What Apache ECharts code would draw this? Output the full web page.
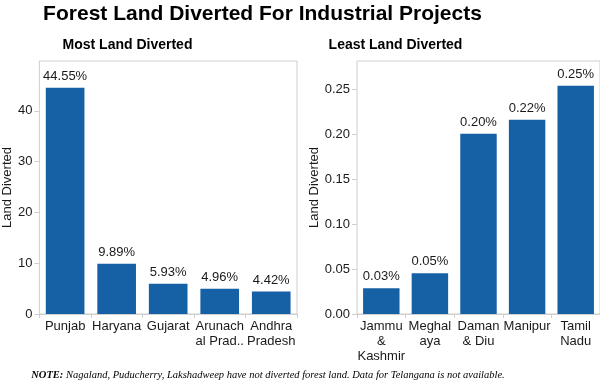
<!DOCTYPE html>
<html>
<head>
<meta charset="utf-8">
<script src="https://cdn.jsdelivr.net/npm/echarts@6/dist/echarts.min.js"></script>
<style>
html,body{margin:0;padding:0;background:#fff;}
#chart{width:600px;height:384px;}
</style>
</head>
<body>
<div id="chart"></div>
<script>
// ---- data ----
var mostCategories = ['Punjab', 'Haryana', 'Gujarat', 'Arunach\nal Prad..', 'Andhra\nPradesh'];
var mostValues = [44.55, 9.89, 5.93, 4.96, 4.42];
var mostTicks = [0, 10, 20, 30, 40];

var leastCategories = ['Jammu\n&\nKashmir', 'Meghal\naya', 'Daman\n& Diu', 'Manipur', 'Tamil\nNadu'];
var leastValues = [0.0286, 0.0455, 0.2006, 0.2162, 0.2542];
var leastTicks = [0, 0.05, 0.10, 0.15, 0.20, 0.25];

var mainTitle = 'Forest Land Diverted For Industrial Projects';
var leftTitle = 'Most Land Diverted';
var rightTitle = 'Least Land Diverted';
var axisName = 'Land Diverted';
var noteLead = 'NOTE:';
var noteText = ' Nagaland, Puducherry, Lakshadweep have not diverted forest land. Data for Telangana is not available.';

// ---- styles ----
var SANS = '"Liberation Sans", Arial, sans-serif';
var SERIF = '"Liberation Serif", "Times New Roman", serif';
var BAR = '#1660a5';
var BORDER = '#cfcfcf';
var TEXT = '#1a1a1a';

var chart = echarts.init(document.getElementById('chart'), null, {renderer: 'canvas'});

function yAxisCfg(gridIndex, max, ticks, digits, gap) {
  return {
    type: 'value', gridIndex: gridIndex, min: 0, max: max,
    name: axisName, nameLocation: 'middle', nameGap: gap,
    nameTextStyle: {fontFamily: SANS, fontSize: 13, color: TEXT},
    axisLine: {show: false},
    axisTick: {show: true, length: 5, lineStyle: {color: BORDER}, customValues: ticks},
    axisLabel: {
      fontFamily: SANS, fontSize: 13, color: TEXT, margin: 7, customValues: ticks,
      formatter: function (v) { return Number(v).toFixed(digits); }
    },
    splitLine: {show: false}
  };
}

function xAxisCfg(gridIndex, cats) {
  return {
    type: 'category', gridIndex: gridIndex, data: cats,
    axisLine: {show: true, lineStyle: {color: BORDER}},
    axisTick: {show: true, length: 4, alignWithLabel: false, lineStyle: {color: BORDER}},
    axisLabel: {interval: 0, fontFamily: SANS, fontSize: 13, color: TEXT, margin: 5, lineHeight: 15}
  };
}

function seriesCfg(idx, values) {
  return {
    type: 'bar', xAxisIndex: idx, yAxisIndex: idx, data: values,
    barCategoryGap: '25%',
    itemStyle: {color: BAR},
    label: {
      show: true, position: 'top', distance: 5,
      fontFamily: SANS, fontSize: 13, color: TEXT,
      formatter: function (p) { return p.value.toFixed(2) + '%'; }
    }
  };
}

chart.setOption({
  animation: false,
  backgroundColor: '#fff',
  grid: [
    {left: 35.5, width: 261.5, top: 61, bottom: 70, show: true, borderColor: BORDER, borderWidth: 1},
    {left: 357, width: 248, top: 61, bottom: 70, show: true, borderColor: BORDER, borderWidth: 1}
  ],
  xAxis: [xAxisCfg(0, mostCategories), xAxisCfg(1, leastCategories)],
  yAxis: [yAxisCfg(0, 49.8, mostTicks, 0, 24), yAxisCfg(1, 0.2817, leastTicks, 2, 36)],
  series: [seriesCfg(0, mostValues), seriesCfg(1, leastValues)],
  graphic: [
    {type: 'text', x: 262.5, y: 14, style: {text: mainTitle, fontFamily: SANS, fontWeight: 'bold', fontSize: 21, fill: '#000', align: 'center', verticalAlign: 'middle'}},
    {type: 'text', x: 127.5, y: 45, style: {text: leftTitle, fontFamily: SANS, fontWeight: 'bold', fontSize: 14, fill: '#000', align: 'center', verticalAlign: 'middle'}},
    {type: 'text', x: 395.5, y: 45, style: {text: rightTitle, fontFamily: SANS, fontWeight: 'bold', fontSize: 14, fill: '#000', align: 'center', verticalAlign: 'middle'}},
    {type: 'text', x: 268, y: 375, style: {
      text: '{b|' + noteLead + '}{n|' + noteText + '}',
      align: 'center', verticalAlign: 'middle',
      rich: {
        b: {fontFamily: SERIF, fontStyle: 'italic', fontWeight: 'bold', fontSize: 10.5, fill: '#000'},
        n: {fontFamily: SERIF, fontStyle: 'italic', fontSize: 10.5, fill: '#000'}
      }
    }}
  ]
});
</script>
</body>
</html>
